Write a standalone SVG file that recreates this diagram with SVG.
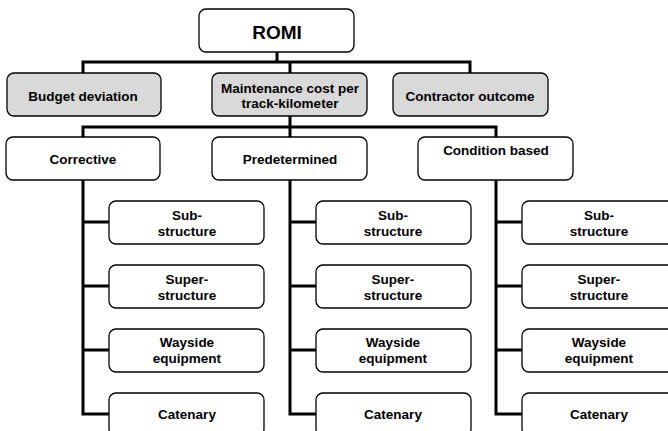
<svg xmlns="http://www.w3.org/2000/svg" width="668" height="431" viewBox="0 0 668 431">
<style>
.box{fill:#fff;stroke:#000;stroke-width:1.3}
.gray{fill:#d9d9d9;stroke:#000;stroke-width:1.3}
.t{font-family:"Liberation Sans",Arial,sans-serif;font-weight:bold;font-size:13.5px;text-anchor:middle;fill:#000}
.big{font-size:19px}
.c{fill:none;stroke:#000;stroke-width:3;stroke-linejoin:miter}
</style>
<rect width="668" height="431" fill="#fff"/>
<g id="connectors">
<path class="c" d="M277 52V62M83 73V62H470V73M290 62V73"/>
<path class="c" d="M290 116V127M83 137V127H496V137M290 127V137"/>
<path class="c" d="M83 180V414H110M83 222H110M83 286H110M83 350H110"/>
<path class="c" d="M290 180V414H317M290 222H317M290 286H317M290 350H317"/>
<path class="c" d="M496 180V414H523M496 222H523M496 286H523M496 350H523"/>
</g>
<g id="romi"><rect class="box" x="199" y="9" width="155" height="43" rx="7"/><text class="t big" x="277" y="38.5">ROMI</text></g>
<g id="budget"><rect class="gray" x="7" y="73" width="154" height="43" rx="7"/><text class="t" x="83" y="101">Budget deviation</text></g>
<g id="maint"><rect class="gray" x="212" y="73" width="155" height="43" rx="7"/><text class="t" x="290" y="93">Maintenance cost per</text><text class="t" x="290" y="108">track-kilometer</text></g>
<g id="contractor"><rect class="gray" x="393" y="73" width="155" height="43" rx="7"/><text class="t" x="470" y="101">Contractor outcome</text></g>
<g id="corrective"><rect class="box" x="6" y="137" width="154" height="43" rx="7"/><text class="t" x="83" y="164">Corrective</text></g>
<g id="predetermined"><rect class="box" x="212" y="137" width="155" height="43" rx="7"/><text class="t" x="290" y="164">Predetermined</text></g>
<g id="condition"><rect class="box" x="418" y="137" width="155" height="43" rx="7"/><text class="t" x="496" y="155">Condition based</text></g>
<g id="c-sub"><rect class="box" x="109" y="201" width="155" height="43" rx="7"/><text class="t" x="187" y="220">Sub-</text><text class="t" x="187" y="236">structure</text></g>
<g id="c-super"><rect class="box" x="109" y="265" width="155" height="43" rx="7"/><text class="t" x="187" y="284">Super-</text><text class="t" x="187" y="300">structure</text></g>
<g id="c-way"><rect class="box" x="109" y="329" width="155" height="43" rx="7"/><text class="t" x="187" y="347">Wayside</text><text class="t" x="187" y="363">equipment</text></g>
<g id="c-cat"><rect class="box" x="109" y="393" width="155" height="43" rx="7"/><text class="t" x="187" y="419">Catenary</text></g>
<g id="p-sub"><rect class="box" x="316" y="201" width="155" height="43" rx="7"/><text class="t" x="393" y="220">Sub-</text><text class="t" x="393" y="236">structure</text></g>
<g id="p-super"><rect class="box" x="316" y="265" width="155" height="43" rx="7"/><text class="t" x="393" y="284">Super-</text><text class="t" x="393" y="300">structure</text></g>
<g id="p-way"><rect class="box" x="316" y="329" width="155" height="43" rx="7"/><text class="t" x="393" y="347">Wayside</text><text class="t" x="393" y="363">equipment</text></g>
<g id="p-cat"><rect class="box" x="316" y="393" width="155" height="43" rx="7"/><text class="t" x="393" y="419">Catenary</text></g>
<g id="d-sub"><rect class="box" x="522" y="201" width="155" height="43" rx="7"/><text class="t" x="599" y="220">Sub-</text><text class="t" x="599" y="236">structure</text></g>
<g id="d-super"><rect class="box" x="522" y="265" width="155" height="43" rx="7"/><text class="t" x="599" y="284">Super-</text><text class="t" x="599" y="300">structure</text></g>
<g id="d-way"><rect class="box" x="522" y="329" width="155" height="43" rx="7"/><text class="t" x="599" y="347">Wayside</text><text class="t" x="599" y="363">equipment</text></g>
<g id="d-cat"><rect class="box" x="522" y="393" width="155" height="43" rx="7"/><text class="t" x="599" y="419">Catenary</text></g>
</svg>
